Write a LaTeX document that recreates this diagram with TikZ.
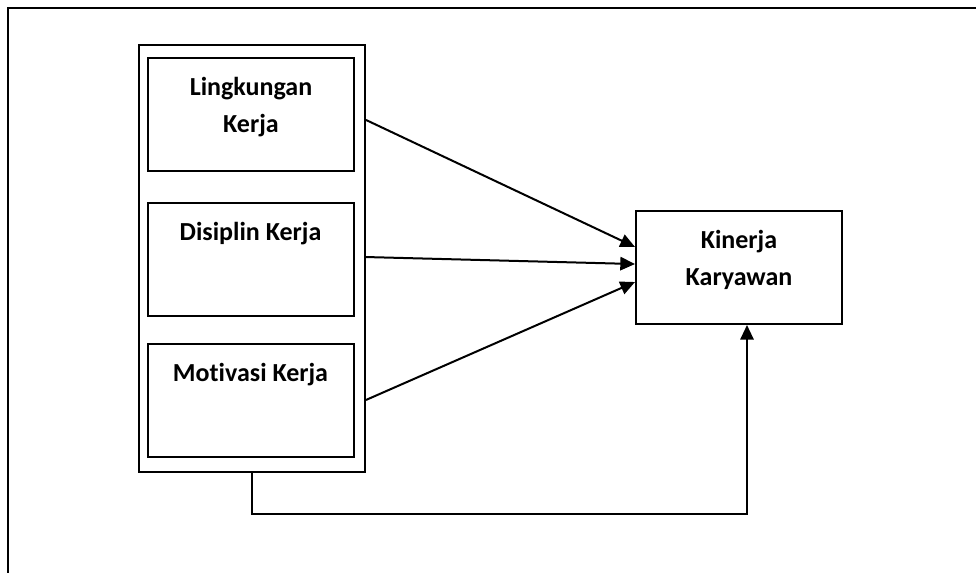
\documentclass[tikz,border=0pt]{standalone}
\usepackage{fontspec}
\setmainfont[Ligatures={NoCommon}]{Carlito}
\usetikzlibrary{arrows.meta,positioning}
\newcommand{\lw}{1.5pt}
\tikzset{
  varbox/.style={draw, line width=\lw, rectangle, minimum width=154.5pt, minimum height=84.75pt, inner sep=0pt},
  varlabel/.style={anchor=north, inner sep=0pt, align=center, font=\fontsize{19.5}{27.75}\selectfont\bfseries},
  arr/.style={line width=\lw, -{Triangle[length=11pt,width=10pt]}}
}

\begin{document}
\begin{tikzpicture}[x=0.75pt, y=-0.75pt]
\useasboundingbox (0,0) rectangle (976,573);
% frame
\draw[line width=\lw] (976,8) -- (8,8) -- (8,573);
% variables X
\node[varbox, minimum width=169.5pt, minimum height=320.25pt] (grp) at (252,258.5) {};
\node[varbox] (ling) at (251,114.5) {};
\node[varbox] (disc) at (250.5,259.5) {};
\node[varbox] (moti) at (250.5,400.5) {};
% variable Y
\node[varbox] (kin) at (739,267.5) {};
\node[varlabel] (lingT) at ([yshift=-15pt]ling.north) {Lingkungan\\Kerja};
\node[varlabel] (discT) at ([yshift=-15pt]disc.north) {Disiplin Kerja};
\node[varlabel] (motiT) at ([yshift=-15pt]moti.north) {Motivasi Kerja};
\node[varlabel] (kinT) at ([yshift=-15pt]kin.north) {Kinerja\\Karyawan};
% arrows
\draw[arr] ([yshift=103.9pt]grp.east) -- ([yshift=15.4pt]kin.west);
\draw[arr] ([yshift=1.1pt]grp.east) -- ([yshift=2.6pt]kin.west);
\draw[arr] ([yshift=-106.1pt]grp.east) -- ([yshift=-10.9pt]kin.west);
\coordinate (fb) at (747,514);
\draw[arr] (grp.south) |- (fb) -- (fb |- kin.south);
\end{tikzpicture}
\end{document}
